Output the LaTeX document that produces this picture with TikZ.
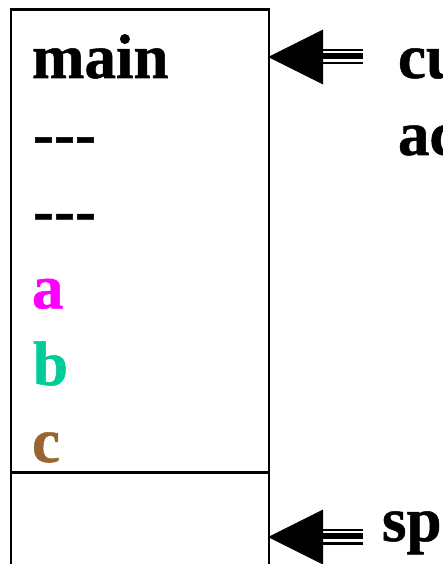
\documentclass[tikz,border=0pt]{standalone}
\usepackage{fontspec}
\setmainfont{Liberation Serif}[BoldFeatures={FakeBold=0.8}]
\usetikzlibrary{calc}
\begin{document}
\begin{tikzpicture}[x=1pt,y=-1pt,
  lbl/.style={anchor=base west,inner sep=0pt,outer sep=0pt,
    font=\fontsize{63}{63}\selectfont\bfseries},
  frame/.style={line width=2.2pt,black},
  head/.style={fill=black,draw=none},
  bar/.style={fill=black,draw=none}]
\useasboundingbox (0,0) rectangle (443,564);
\clip (0,0) rectangle (443,564);

% stack frame
\coordinate (tl) at (11,9.5);
\coordinate (tr) at (269,9.5);
\coordinate (bl) at (11,600);
\coordinate (br) at (269,600);
\coordinate (sl) at (11,472.5);
\coordinate (sr) at (269,472.5);
\draw[frame] (bl) -- (tl) -- (tr) -- (br);
\draw[frame] (sl) -- (sr);

% frame contents
\node[lbl] (main) at (32,78) {main};
\node[lbl] (d1) at (33,154.8) {-{}-{}-};
\node[lbl] (d2) at (33,231.6) {-{}-{}-};
\node[lbl,text={rgb,255:red,255;green,0;blue,255}] (va) at (32,308.4) {a};
\node[lbl,text={rgb,255:red,0;green,204;blue,153}] (vb) at (33,385) {b};
\node[lbl,text={rgb,255:red,153;green,102;blue,51}] (vc) at (32,462) {c};

% pointer labels
\node[lbl] (cur) at (398,78) {cu};
\node[lbl] (act) at (398,155) {ac};
\node[lbl] (sp) at (382,541) {sp};

% pointer arrows
\foreach \n/\y in {ca/57,sa/537}{
  \coordinate (\n tip) at (268,\y);
  \coordinate (\n tail) at (363,\y);
  \fill[head] (\n tip) -- ++(55,-27.5) -- ++(0,55) -- cycle;
  \fill[bar] ($(\n tip)+(54,-8)$) rectangle ($(\n tail)+(0,-6)$);
  \fill[bar] ($(\n tip)+(54,-4)$) rectangle ($(\n tail)+(0,2)$);
  \fill[bar] ($(\n tip)+(54,5)$) rectangle ($(\n tail)+(0,7.5)$);
}
\end{tikzpicture}
\end{document}
